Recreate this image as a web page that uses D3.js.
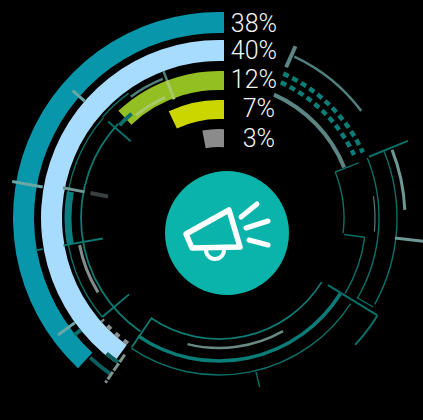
<!DOCTYPE html>
<html>
<head>
<meta charset="utf-8">
<script src="https://cdn.jsdelivr.net/npm/d3@7/dist/d3.min.js"></script>
<style>
  html, body { margin: 0; padding: 0; background: #000; overflow: hidden; }
  svg { display: block; }
</style>
</head>
<body>
<script>
// Share values, outermost ring first
const shares = [38, 40, 12, 7, 3];
const shareLabels = ["38%", "40%", "12%", "7%", "3%"];
const ringColors = ["#0896ab", "#a8dcff", "#93bf22", "#cbd600", "#8b8b8b"];
const ringBands = [[185, 206], [157, 178], [128, 147], [99, 118], [71, 89]];
const labelBaselines = [32, 59, 88, 117, 147];

// Decorative concentric arcs: radius, start angle, end angle (degrees clockwise from north), style
const ornamentArcs = [
  [178, 25, 53, "slate"],
  [158, 24, 65.5, "dash"],
  [149, 24.5, 65, "dash"],
  [135, 24, 68, "slateWide"],
  [125, 68.4, 97, "hair"],
  [147, 97.5, 121, "hair"],
  [186, 68.5, 87.5, "pale"],
  [178, 68, 119, "hair"],
  [160, 68, 120, "hair"],
  [156, 82, 95, "ghost"],
  [186, 121.6, 133, "tealLine"],
  [121, 122, 214, "fine"],
  [143, 122, 214.5, "tealWide"],
  [157, 123, 214, "hair"],
  [130, 150.5, 194, "moss"],
  [142, 238.4, 259, "greyWide"],
  [138, 214.7, 313, "fine"],
  [136, 313, 320, "tealHeavy"],
  [153, 229.7, 311, "hair"],
  [154, 311, 324, "hair"],
  [151, 260, 280, "tealBlock"],
  [155, 216, 229, "greyDash"],
  [190, 215, 222.7, "darkTeal"],
  [176, 215, 219.7, "darkTeal"],
  [150, 324, 338, "slate"],
  [132, 321, 336, "lime"]
];

// Decorative radial strokes: angle, inner radius, outer radius, style
const ornamentTicks = [
  [24, 165, 188, "slateWide"],
  [68.4, 125, 150, "hair"],
  [97.5, 126, 147, "hair"],
  [67.8, 162, 204, "tealLine"],
  [96.5, 177, 210, "pale"],
  [121.6, 128, 186, "tealLine"],
  [120, 159, 178, "hair"],
  [214, 120, 156, "fine"],
  [166.5, 158, 174, "hair"],
  [229.7, 118, 153, "fine"],
  [260, 118, 158, "fine"],
  [260, 179, 187, "fine"],
  [281, 137, 159, "pale"],
  [281, 113, 131, "charcoal"],
  [280, 179, 210, "mist"],
  [311, 178, 194, "mist"],
  [234, 178, 199, "mist"],
  [231, 178, 186, "tealHeavy"],
  [214.6, 166, 200, "greyDash2"],
  [339.3, 147, 157, "slate"],
  [339.3, 127, 147, "lime"],
  [311, 117, 147, "tealLine"]
];

const ornamentStyles = {
  hair:      { stroke: "#0d6f69", width: 1.4 },
  fine:      { stroke: "#0d7a73", width: 1.8 },
  ghost:     { stroke: "#5a7a78", width: 1.2 },
  slate:     { stroke: "#4f807c", width: 2.5 },
  slateWide: { stroke: "#5c8683", width: 4 },
  pale:      { stroke: "#6f9895", width: 3 },
  moss:      { stroke: "#6a8a84", width: 2.5 },
  tealLine:  { stroke: "#0b6f6a", width: 2 },
  tealWide:  { stroke: "#0b7d78", width: 3.5 },
  tealHeavy: { stroke: "#0b6f6c", width: 4 },
  tealBlock: { stroke: "#0b7d80", width: 7 },
  darkTeal:  { stroke: "#0a5f5f", width: 4 },
  greyWide:  { stroke: "#858c8c", width: 3 },
  charcoal:  { stroke: "#3a3f3f", width: 4 },
  mist:      { stroke: "#6aa8a8", width: 3 },
  lime:      { stroke: "#a9c96a", width: 3 },
  dash:      { stroke: "#0b7d78", width: 4.5, dash: "6 4" },
  greyDash:  { stroke: "#8a8f8f", width: 4, dash: "5 6" },
  greyDash2: { stroke: "#7d9390", width: 3, dash: "9 1.5" }
};

const width = 423, height = 420;
const cx = 219, cy = 218;

const svg = d3.select("body").append("svg")
  .attr("width", width)
  .attr("height", height)
  .style("background", "#000");

const rad = d3.scaleLinear().domain([0, 360]).range([0, 2 * Math.PI]);
const shareAngle = d3.scaleLinear().domain([0, 100]).range([0, 360]);

// Rings all finish on one vertical cut just right of the centre line
svg.append("clipPath").attr("id", "ring-cut")
  .append("rect").attr("x", -cx).attr("y", -cy).attr("width", cx + 5).attr("height", height);

const chart = svg.append("g").attr("transform", `translate(${cx},${cy})`);

const ringArc = d3.arc()
  .innerRadius((d, i) => ringBands[i][0])
  .outerRadius((d, i) => ringBands[i][1])
  .startAngle(d => -rad(shareAngle(d)))
  .endAngle(rad(10));

chart.append("g").attr("clip-path", "url(#ring-cut)")
  .selectAll("path").data(shares).join("path")
  .attr("d", ringArc)
  .attr("fill", (d, i) => ringColors[i]);

// Ornament layer
const arcPath = ([r, a0, a1]) => {
  const p = d3.path();
  p.arc(0, 0, r, rad(a0) - Math.PI / 2, rad(a1) - Math.PI / 2);
  return p.toString();
};
const tickLine = d3.lineRadial().angle(d => rad(d[0])).radius(d => d[1]);
const tickPath = ([a, r0, r1]) => tickLine([[a, r0], [a, r1]]);

chart.append("g").selectAll("path").data(ornamentArcs).join("path")
  .attr("d", arcPath)
  .attr("fill", "none")
  .attr("stroke", d => ornamentStyles[d[3]].stroke)
  .attr("stroke-width", d => ornamentStyles[d[3]].width)
  .attr("stroke-dasharray", d => ornamentStyles[d[3]].dash || null);

chart.append("g").selectAll("path").data(ornamentTicks).join("path")
  .attr("d", tickPath)
  .attr("fill", "none")
  .attr("stroke", d => ornamentStyles[d[3]].stroke)
  .attr("stroke-width", d => ornamentStyles[d[3]].width)
  .attr("stroke-dasharray", d => ornamentStyles[d[3]].dash || null);

// Share labels
svg.append("g").selectAll("text").data(shareLabels).join("text")
  .attr("x", (d, i) => i < 3 ? 277 : 275)
  .attr("y", (d, i) => labelBaselines[i])
  .attr("text-anchor", "end")
  .attr("font-family", "Roboto, sans-serif")
  .attr("font-weight", 300)
  .attr("font-size", 25)
  .attr("fill", "#f4f4f4")
  .text(d => d);

// Central badge with megaphone
const badge = svg.append("g").attr("transform", "translate(227,233)");
badge.append("circle").attr("r", 62).attr("fill", "#0ab4aa");

const icon = badge.append("g")
  .attr("fill", "none")
  .attr("stroke", "#fff")
  .attr("stroke-linejoin", "round")
  .attr("stroke-linecap", "round");

icon.append("path").attr("stroke-width", 5.5)
  .attr("d", "M-41,1 L2,-23 L13,14 L-35,15 Z");
icon.append("path").attr("stroke-width", 4)
  .attr("d", "M-21,17 A9,9 0 0 0 -3,17");
icon.append("path").attr("stroke-width", 5)
  .attr("d", "M14,-16 L30,-29 M19,-5 L41,-12 M22,7 L41,12");
</script>
</body>
</html>
